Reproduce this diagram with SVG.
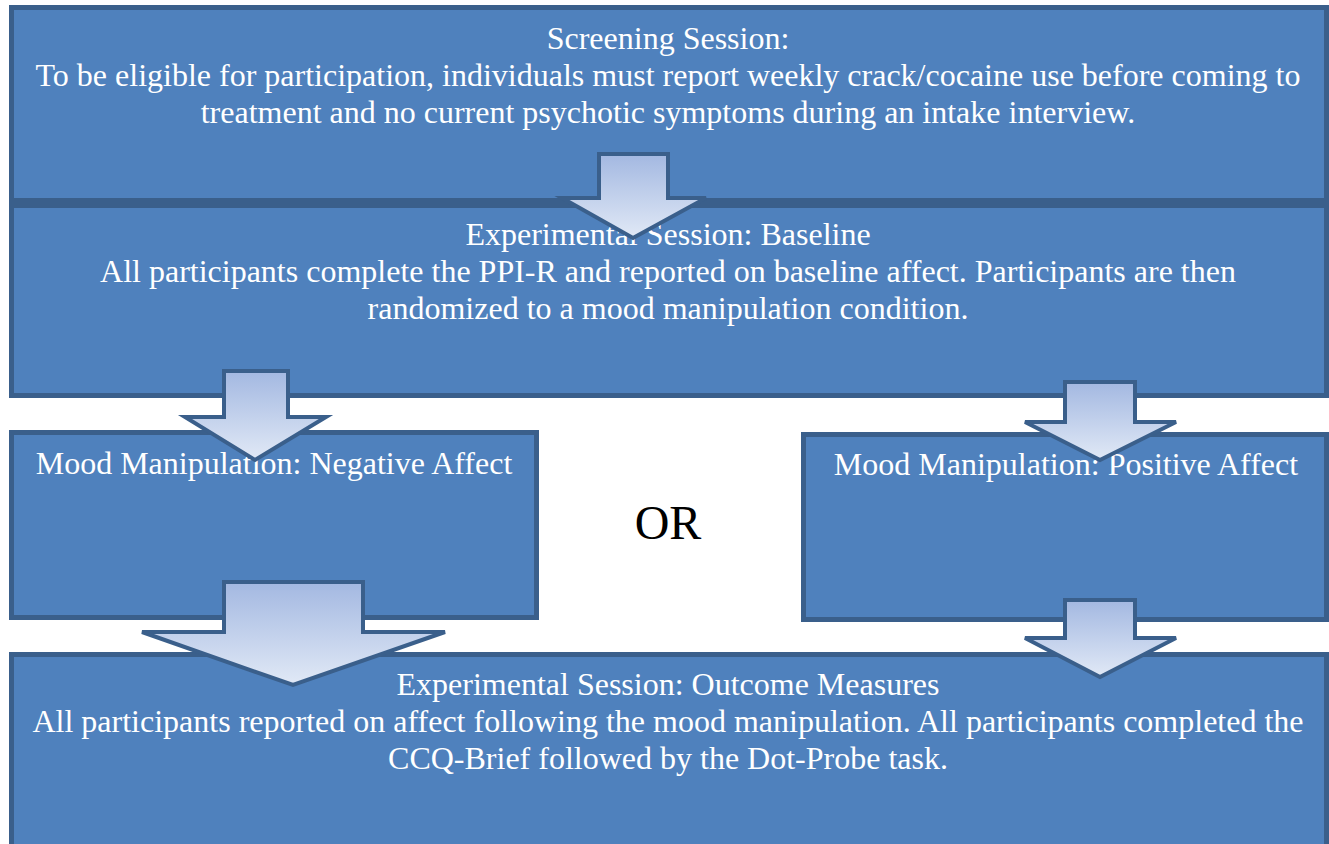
<svg xmlns="http://www.w3.org/2000/svg" width="1329" height="844" viewBox="0 0 1329 844">
  <style>
    .box { fill: #4F81BD; stroke: #3A5F8B; stroke-width: 5; }
    .t { font-family: "Liberation Serif", "Times New Roman", serif; font-size: 32px; fill: #FFFFFF; text-anchor: middle; }
    .or { font-family: "Liberation Serif", "Times New Roman", serif; font-size: 48px; fill: #000000; text-anchor: middle; }
    .arrow { fill: url(#ag); stroke: #3A5F8B; stroke-width: 4; stroke-linejoin: miter; }
  </style>
  <defs>
    <linearGradient id="ag" x1="0" y1="0" x2="0" y2="1">
      <stop offset="0" stop-color="#A3B8E1"/>
      <stop offset="1" stop-color="#E1E9F6"/>
    </linearGradient>
  </defs>
  <rect width="1329" height="844" fill="#FFFFFF"/>

  <g id="screening">
    <rect class="box" x="11.5" y="7.5" width="1315" height="193"/>
    <text class="t" x="668" y="48.5">Screening Session:</text>
    <text class="t" x="668" y="85.5">To be eligible for participation, individuals must report weekly crack/cocaine use before coming to</text>
    <text class="t" x="668" y="122.5">treatment and no current psychotic symptoms during an intake interview.</text>
  </g>

  <g id="baseline">
    <rect class="box" x="11.5" y="205.5" width="1315" height="190"/>
    <text class="t" x="668" y="245">Experimental Session: Baseline</text>
    <text class="t" x="668" y="282">All participants complete the PPI-R and reported on baseline affect. Participants are then</text>
    <text class="t" x="668" y="319">randomized to a mood manipulation condition.</text>
  </g>

  <g id="negative">
    <rect class="box" x="11.5" y="432.5" width="525" height="185"/>
    <text class="t" x="274" y="474">Mood Manipulation: Negative Affect</text>
  </g>

  <g id="or">
    <text class="or" x="668" y="539">OR</text>
  </g>

  <g id="positive">
    <rect class="box" x="803.5" y="434.5" width="523" height="185"/>
    <text class="t" x="1066" y="475">Mood Manipulation: Positive Affect</text>
  </g>

  <g id="outcome">
    <rect class="box" x="11.5" y="654.5" width="1315" height="200"/>
    <text class="t" x="668" y="695">Experimental Session: Outcome Measures</text>
    <text class="t" x="668" y="732">All participants reported on affect following the mood manipulation. All participants completed the</text>
    <text class="t" x="668" y="769">CCQ-Brief followed by the Dot-Probe task.</text>
  </g>

  <g id="connectors">
    <polygon class="arrow" points="599,154 668,154 668,198 706,198 633,238 562,198 599,198"/>
    <polygon class="arrow" points="224,371 288,371 288,417 326,417 255,460 185,417 224,417"/>
    <polygon class="arrow" points="1065,382 1135,382 1135,422 1176,422 1100,460 1025,422 1065,422"/>
    <polygon class="arrow" points="224,582 363,582 363,632 445,632 293,685 142,632 224,632"/>
    <polygon class="arrow" points="1065,600 1135,600 1135,638 1176,638 1100,677 1025,638 1065,638"/>
  </g>
</svg>
